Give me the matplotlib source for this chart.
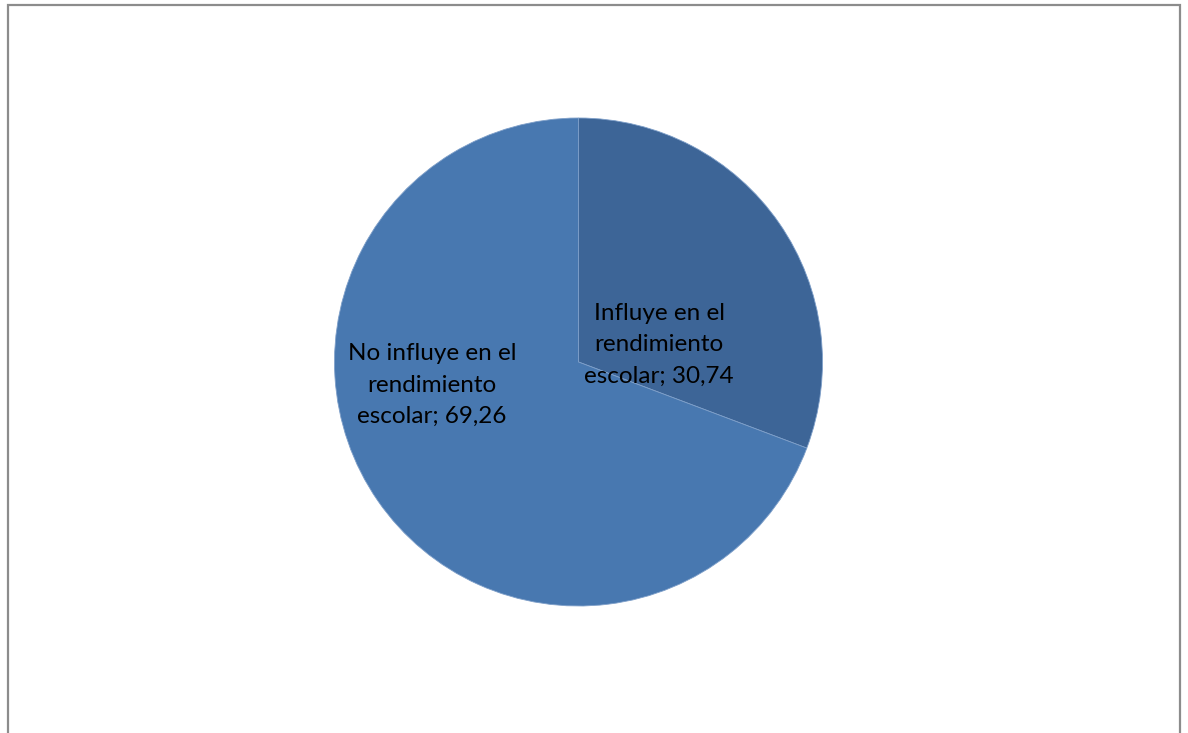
import matplotlib
matplotlib.use("Agg")
from matplotlib import pyplot as plt
from matplotlib.patches import Rectangle

labels = ["Influye en el\nrendimiento\nescolar; 30,74", "No influye en el\nrendimiento\nescolar; 69,26"]
values = [30.74, 69.26]
colors = ["#3D6597", "#4878B0"]
# label anchor points, in units of the pie radius
label_xy = [(0.33, 0.07), (-0.60, -0.095)]

fig = plt.figure(figsize=(11.88, 7.33), dpi=100)
ax = fig.add_axes([334.5 / 1188, 127 / 733, 488 / 1188, 488 / 733])

ax.pie(values, colors=colors, startangle=90, counterclock=False,
       wedgeprops=dict(edgecolor="#7E9FC9", linewidth=0.6))
for lab, (x, y) in zip(labels, label_xy):
    ax.text(x, y, lab, ha="center", va="center", fontsize=17.5,
            family=["Lato", "DejaVu Sans"], linespacing=1.6, color="black")

ax.set_xlim(-1, 1)
ax.set_ylim(-1, 1)
ax.set_aspect("equal")
ax.axis("off")

# outer chart frame
fig.patches.append(Rectangle((8 / 1188, -0.05), 1172 / 1188, (728 / 733) + 0.05,
                             transform=fig.transFigure, fill=False,
                             edgecolor="#8C8C8C", linewidth=1.6))

fig.savefig("out.png", dpi=100, facecolor="white")
